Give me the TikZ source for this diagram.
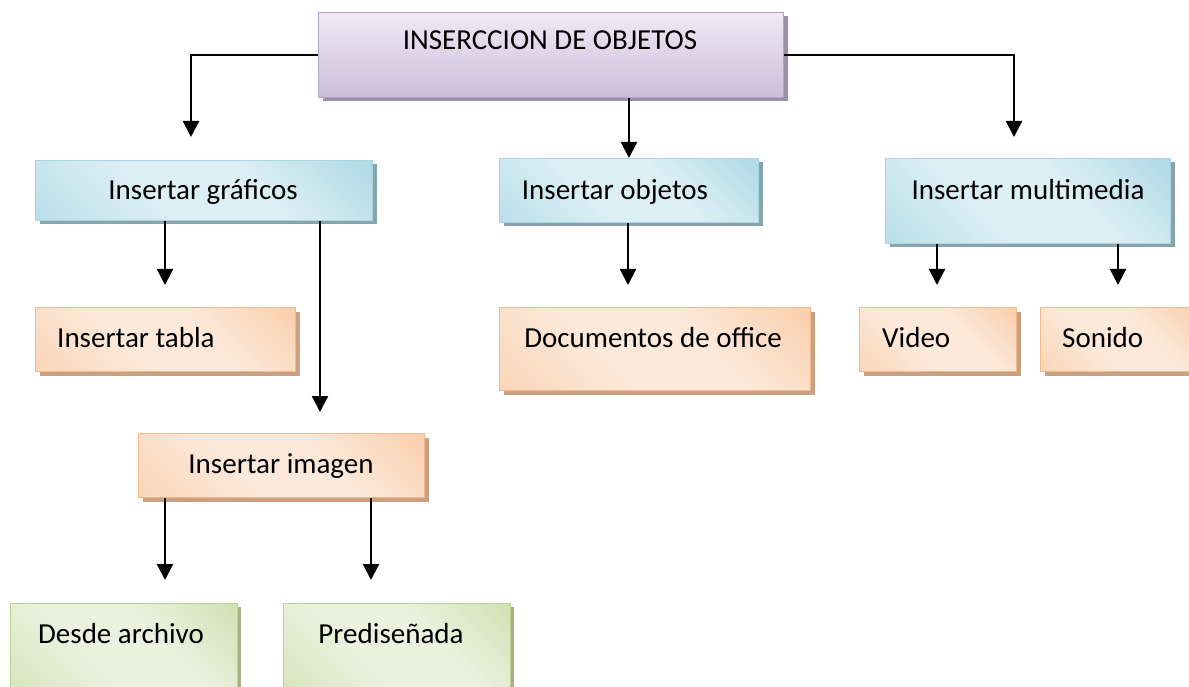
\documentclass[tikz,border=0pt]{standalone}
\usepackage{fontspec}
\setmainfont{Carlito}
\usetikzlibrary{arrows.meta,shadows}

\definecolor{moradoC}{HTML}{EFEAF5}
\definecolor{moradoO}{HTML}{CBBEDA}
\definecolor{moradoB}{HTML}{B3A3C8}
\definecolor{moradoS}{HTML}{9C90A8}
\definecolor{azulC}{HTML}{DCEFF4}
\definecolor{azulO}{HTML}{93CDDD}
\definecolor{azulB}{HTML}{A8D6E2}
\definecolor{azulS}{HTML}{88A3AB}
\definecolor{naranjaC}{HTML}{FCE9DA}
\definecolor{naranjaO}{HTML}{F9BF90}
\definecolor{naranjaB}{HTML}{F7B98A}
\definecolor{naranjaS}{HTML}{C8A184}
\definecolor{verdeC}{HTML}{EBF1DE}
\definecolor{verdeO}{HTML}{C3D69B}
\definecolor{verdeB}{HTML}{BFD396}
\definecolor{verdeS}{HTML}{A3B384}

\pgfdeclarehorizontalshading{azulsh}{100bp}{color(0bp)=(azulO!75!azulC); color(40bp)=(azulC); color(60bp)=(azulC); color(100bp)=(azulO)}
\pgfdeclarehorizontalshading{naranjash}{100bp}{color(0bp)=(naranjaO!75!naranjaC); color(40bp)=(naranjaC); color(60bp)=(naranjaC); color(100bp)=(naranjaO)}
\pgfdeclarehorizontalshading{verdesh}{100bp}{color(0bp)=(verdeO!75!verdeC); color(40bp)=(verdeC); color(60bp)=(verdeC); color(100bp)=(verdeO)}

\tikzset{
  caja/.style={draw, line width=1pt, inner sep=0pt, anchor=north west},
  cajamorada/.style={caja, draw=moradoB, top color=moradoC, bottom color=moradoO,
    drop shadow={shadow xshift=4pt, shadow yshift=-4pt, opacity=1, fill=moradoS}},
  cajaazul/.style={caja, draw=azulB, shading=azulsh, shading angle=45,
    drop shadow={shadow xshift=4pt, shadow yshift=-4pt, opacity=1, fill=azulS}},
  cajanaranja/.style={caja, draw=naranjaB, shading=naranjash, shading angle=45,
    drop shadow={shadow xshift=4pt, shadow yshift=-4pt, opacity=1, fill=naranjaS}},
  cajaverde/.style={caja, draw=verdeB, shading=verdesh, shading angle=45,
    drop shadow={shadow xshift=3pt, shadow yshift=-3pt, opacity=1, fill=verdeS}},
  texto/.style={inner sep=0pt, anchor=base, font=\fontsize{29}{34}\selectfont},
  flecha/.style={line width=2.2pt, -{Triangle[width=16pt,length=16pt]}}
}

\begin{document}
\begin{tikzpicture}[x=1pt, y=-1pt]
		%%%%% START %%%%%
		\useasboundingbox[fill=white] (0,0) rectangle (1189,687);
		
		\node[cajamorada, minimum width=465pt, minimum height=85pt] (insercion) at (318,12) {};
		
		\node[cajaazul, minimum width=337pt, minimum height=60pt] (graficos) at (35,160) {};
		\node[cajaazul, minimum width=259pt, minimum height=64pt] (objetos) at (499,158) {};
		\node[cajaazul, minimum width=285pt, minimum height=85pt] (multimedia) at (885,158) {};
		
		\node[cajanaranja, minimum width=260pt, minimum height=64pt] (tabla) at (35,307) {};
		\node[cajanaranja, minimum width=286pt, minimum height=64pt] (imagen) at (138,433) {};
		\node[cajanaranja, minimum width=311pt, minimum height=83pt] (office) at (499,307) {};
		\node[cajanaranja, minimum width=157pt, minimum height=64pt] (video) at (859,307) {};
		\node[cajanaranja, minimum width=160pt, minimum height=64pt] (sonido) at (1040,307) {};
		
		\node[cajaverde, minimum width=227pt, minimum height=86pt] (archivo) at (10,603) {};
		\node[cajaverde, minimum width=227pt, minimum height=86pt] (predis) at (283,603) {};
		
		% puntas de flecha
		\coordinate (pgraficos) at (191,137);
		\coordinate (pmultimedia) at (1014,137);
		\coordinate (ptabla) at (165,285);
		\coordinate (pimagen) at (320,412);
		\coordinate (poffice) at (628,285);
		\coordinate (pvideo) at (937,285);
		\coordinate (psonido) at (1118,285);
		\coordinate (parchivo) at (165,580);
		\coordinate (ppredis) at (371,580);
		
		\draw[flecha] (insercion.west) -| (pgraficos);
		\draw[flecha] (insercion.east) -| (pmultimedia);
		\draw[flecha] (insercion.south -| objetos.north) -- (objetos.north);
		
		\draw[flecha] (graficos.south -| ptabla) -- (ptabla);
		\draw[flecha] (graficos.south -| pimagen) -- (pimagen);
		\draw[flecha] (objetos.south -| poffice) -- (poffice);
		\draw[flecha] (multimedia.south -| pvideo) -- (pvideo);
		\draw[flecha] (multimedia.south -| psonido) -- (psonido);
		\draw[flecha] (imagen.south -| parchivo) -- (parchivo);
		\draw[flecha] (imagen.south -| ppredis) -- (ppredis);
		
		\node[texto] (t-insercion) at (550,50) {INSERCCION DE OBJETOS};
		\node[texto] (t-graficos) at (203,200) {Insertar gráficos};
		\node[texto] (t-objetos) at (615,200) {Insertar objetos};
		\node[texto] (t-multimedia) at (1028,200) {Insertar multimedia};
		\node[texto, anchor=base west] (t-tabla) at (57,347) {Insertar tabla};
		\node[texto] (t-imagen) at (281,473) {Insertar imagen};
		\node[texto] (t-office) at (653,347) {Documentos de office};
		\node[texto, anchor=base west] (t-video) at (882,347) {Video};
		\node[texto, anchor=base west] (t-sonido) at (1062,347) {Sonido};
		\node[texto] (t-archivo) at (121,643) {Desde archivo};
		\node[texto] (t-predis) at (391,643) {Prediseñada};
		
		%%%%% END %%%%%
\end{tikzpicture}
\end{document}
